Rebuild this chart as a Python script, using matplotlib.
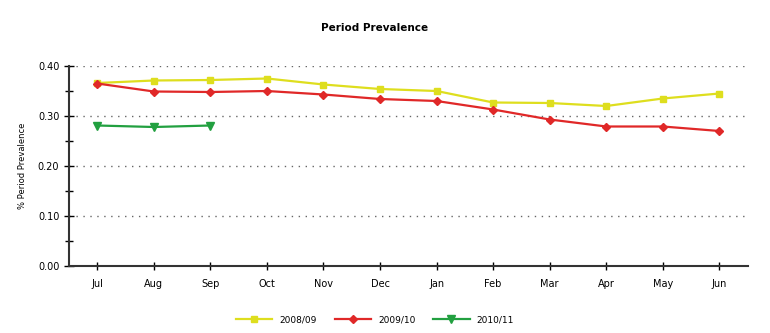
import matplotlib

matplotlib.use("Agg")
import matplotlib.pyplot as plt
from matplotlib.ticker import MultipleLocator

months = ["Jul", "Aug", "Sep", "Oct", "Nov", "Dec", "Jan", "Feb", "Mar", "Apr", "May", "Jun"]
prev_0809 = [0.366, 0.371, 0.372, 0.375, 0.363, 0.354, 0.350, 0.327, 0.326, 0.320, 0.335, 0.345]
prev_0910 = [0.365, 0.349, 0.348, 0.350, 0.343, 0.334, 0.330, 0.313, 0.293, 0.279, 0.279, 0.270]
prev_1011 = [0.281, 0.278, 0.281]
series_labels = ["2008/09", "2009/10", "2010/11"]

fig = plt.figure(figsize=(7.7, 3.33), dpi=100)
ax = fig.add_axes([0.0896, 0.2012, 0.8814, 0.6006])

x = list(range(len(months)))
ax.plot(x, prev_0809, color="#dede1e", marker="s", markersize=5, linewidth=1.6,
        label=series_labels[0])
ax.plot(x, prev_0910, color="#e02828", marker="D", markersize=4.5, linewidth=1.6,
        label=series_labels[1])
ax.plot(x[:len(prev_1011)], prev_1011, color="#22a040", marker="v", markersize=5.5,
        linewidth=1.6, label=series_labels[2])

ax.set_xlim(-0.5, len(months) - 0.5)
ax.set_ylim(0, 0.40)
ax.set_xticks(x)
ax.set_xticklabels(months, fontsize=7)
ax.yaxis.set_major_locator(MultipleLocator(0.10))
ax.yaxis.set_minor_locator(MultipleLocator(0.05))
ax.yaxis.set_major_formatter(lambda v, pos: f"{v:.2f}")
ax.tick_params(axis="y", labelsize=7, direction="inout", length=7, width=1)
ax.tick_params(axis="y", which="minor", direction="inout", length=6, width=1)
ax.tick_params(axis="x", direction="inout", length=6, width=1, pad=6)
ax.grid(axis="y", which="major", linestyle=(0, (1, 4)), color="#666666", linewidth=1)
ax.set_axisbelow(True)

for side in ("top", "right"):
    ax.spines[side].set_visible(False)
for side in ("left", "bottom"):
    ax.spines[side].set_linewidth(1.5)
    ax.spines[side].set_color("#333333")

ax.set_ylabel("% Period Prevalence", fontsize=6, labelpad=8)
fig.text(0.487, 0.915, "Period Prevalence", ha="center", va="center", fontsize=7.5,
         fontweight="bold")

fig.legend(loc="center", bbox_to_anchor=(0.487, 0.04), ncol=3, frameon=False, fontsize=6.5,
           handlelength=4, columnspacing=2)

fig.savefig("out.png", dpi=100)
